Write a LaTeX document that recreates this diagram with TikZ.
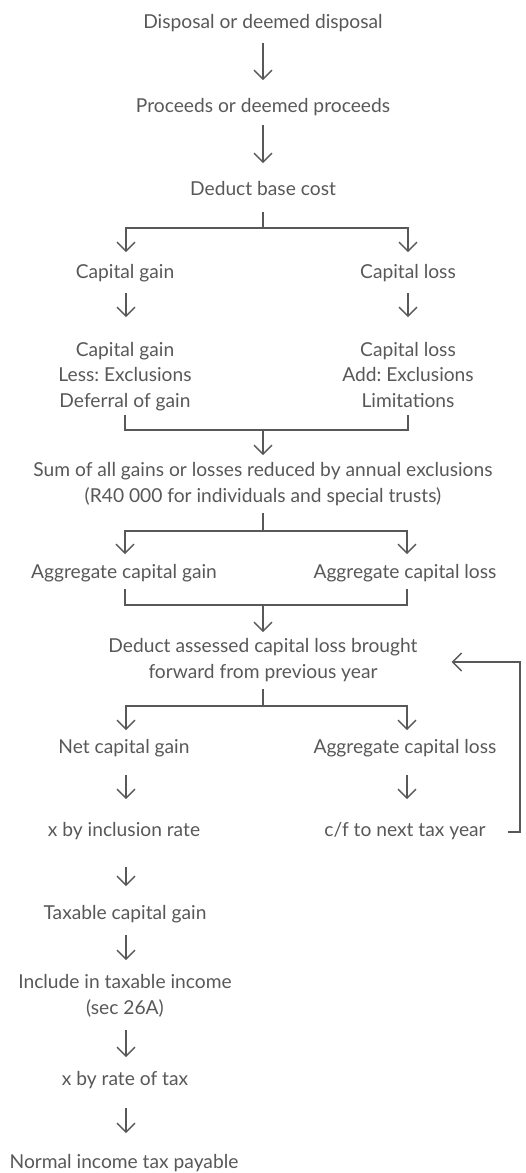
\documentclass[tikz,border=0pt]{standalone}
\usepackage{fontspec}
\setmainfont{Lato}
\usetikzlibrary{arrows.meta}
\definecolor{flowgray}{RGB}{88,88,88}
\frenchspacing

\begin{document}
\begin{tikzpicture}[x=1pt,y=-1pt,
  every node/.style={anchor=base,align=center,inner sep=0pt,text=flowgray,font=\fontsize{19.2}{25.5}\selectfont},
  flow/.style={draw=flowgray,line width=1.4pt},
  arr/.style={-{Straight Barb[length=9pt,width=18pt]}}]
\useasboundingbox (0,0) rectangle (526,1173);
\node (dispose) at (263,28) {Disposal or deemed disposal};
\node (proceeds) at (263,112) {Proceeds or deemed proceeds};
\node (basecost) at (263,195) {Deduct base cost};
\node (gain) at (125,278) {Capital gain};
\node (loss) at (408,278) {Capital loss};
\node (gainadj) at (125,407) {Capital gain\\Less: Exclusions\\Deferral of gain};
\node (lossadj) at (408,407) {Capital loss\\Add: Exclusions\\Limitations};
\node (sum) at (263,502) {Sum of all gains or losses reduced by annual exclusions\\(R40 000 for individuals and special trusts)};
\node (agggain) at (124,578) {Aggregate capital gain};
\node (aggloss) at (405,578) {Aggregate capital loss};
\node (assessed) at (263,678) {Deduct assessed capital loss brought\\forward from previous year};
\node (net) at (124,753) {Net capital gain};
\node (netloss) at (405,753) {Aggregate capital loss};
\node (inclrate) at (124,836) {x by inclusion rate};
\node (cf) at (405,836) {c/f to next tax year};
\node (taxable) at (125,919) {Taxable capital gain};
\node (income) at (125,1014) {Include in taxable income\\(sec 26A)};
\node (taxrate) at (125,1085) {x by rate of tax};
\node (payable) at (124,1168) {Normal income tax payable};

\draw[flow,arr] ([yshift=-15pt]dispose.base) -- ([yshift=32pt]proceeds.base);
\draw[flow,arr] ([yshift=-13pt]proceeds.base) -- ([yshift=32pt]basecost.base);
\draw[flow] ([yshift=-17pt]basecost.base) -- ++(0,16) coordinate (split1);
\draw[flow,arr] (split1) -| ([xshift=1pt,yshift=26pt]gain.base);
\draw[flow,arr] (split1) -| ([yshift=26pt]loss.base);
\draw[flow,arr] ([xshift=1pt,yshift=-15pt]gain.base) -- ([xshift=1pt,yshift=90pt]gainadj.base);
\draw[flow,arr] ([yshift=-15pt]loss.base) -- ([yshift=90pt]lossadj.base);
\draw[flow] ([yshift=-8pt]gainadj.base) |- ([yshift=-23pt]lossadj.base) coordinate (join1) -- ([yshift=-8pt]lossadj.base);
\draw[flow,arr] ([yshift=-23pt]gainadj.base -| sum.base) -- ([yshift=47pt]sum.base);
\draw[flow] ([yshift=-11pt]sum.base) -- ++(0,18) coordinate (split2);
\draw[flow,arr] (split2) -| ([xshift=1pt,yshift=24pt]agggain.base);
\draw[flow,arr] (split2) -| ([xshift=2pt,yshift=24pt]aggloss.base);
\draw[flow] ([xshift=1pt,yshift=-11pt]agggain.base) |- ([xshift=2pt,yshift=-27pt]aggloss.base) -- ([xshift=2pt,yshift=-11pt]aggloss.base);
\draw[flow,arr] ([yshift=-27pt]agggain.base -| assessed.base) -- ([yshift=46pt]assessed.base);
\draw[flow] ([yshift=-11pt]assessed.base) -- ++(0,17) coordinate (split3);
\draw[flow,arr] (split3) -| ([xshift=2pt,yshift=23pt]net.base);
\draw[flow,arr] (split3) -| ([xshift=2pt,yshift=23pt]netloss.base);
\draw[flow,arr] ([xshift=2pt,yshift=-22pt]net.base) -- ([xshift=2pt,yshift=37pt]inclrate.base);
\draw[flow,arr] ([xshift=2pt,yshift=-22pt]netloss.base) -- ([xshift=2pt,yshift=37pt]cf.base);
\draw[flow,arr] ([xshift=2pt,yshift=-31pt]inclrate.base) -- ([xshift=1pt,yshift=33pt]taxable.base);
\draw[flow,arr] ([xshift=1pt,yshift=-16pt]taxable.base) -- ([xshift=1pt,yshift=54pt]income.base);
\draw[flow,arr] ([xshift=1pt,yshift=-16pt]income.base) -- ([xshift=1pt,yshift=28pt]taxrate.base);
\draw[flow,arr] ([xshift=1pt,yshift=-23pt]taxrate.base) -- ([xshift=2pt,yshift=35pt]payable.base);
\draw[flow,arr] ([xshift=22pt,yshift=4pt]cf.base east) -- ++(12,0) |- ([xshift=34pt,yshift=16pt]assessed.base east);
\end{tikzpicture}
\end{document}
